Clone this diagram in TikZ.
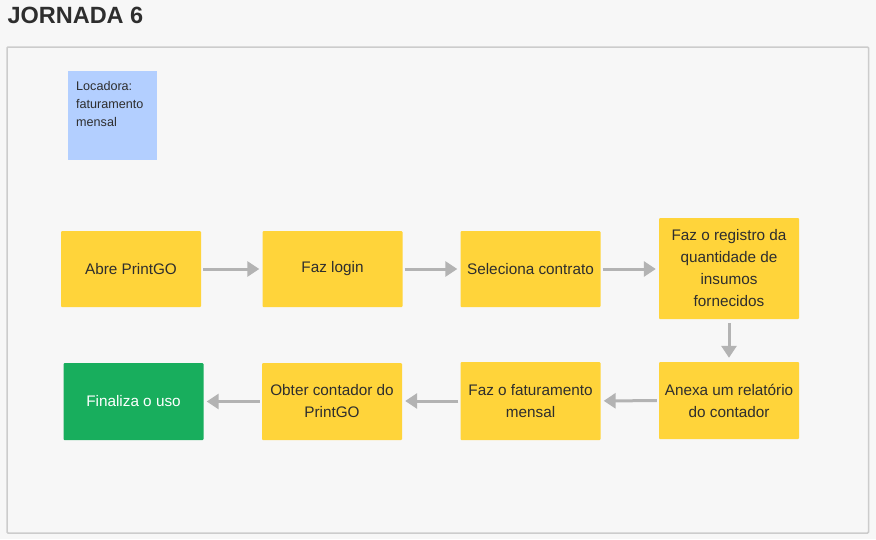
\documentclass[tikz,border=0pt]{standalone}
\usepackage{fontspec}
\setmainfont{Liberation Sans}
\usetikzlibrary{arrows.meta}
\definecolor{pagebg}{HTML}{F7F7F7}
\definecolor{framebd}{HTML}{CCCCCC}
\definecolor{stickyY}{HTML}{FFD43A}
\definecolor{stickyB}{HTML}{B3CFFF}
\definecolor{stickyG}{HTML}{18AE5D}
\definecolor{txt}{HTML}{2E2E2E}
\definecolor{arrowc}{HTML}{B3B3B3}
\tikzset{
  box/.style={rectangle, rounded corners=1pt, inner sep=2pt, align=center,
    text=txt, font=\fontsize{15.3}{22}\selectfont},
  ybox/.style={box, fill=stickyY},
  gbox/.style={box, fill=stickyG, text=white},
  arr/.style={draw=arrowc, line width=3pt,
    -{Triangle[length=12pt,width=15pt]}, shorten >=3pt, shorten <=2pt},
}
\begin{document}
\begin{tikzpicture}[x=1pt,y=-1pt]
\useasboundingbox[fill=pagebg] (0,0) rectangle (876,539);
\node[anchor=west, text=txt, font=\fontsize{23.5}{26}\selectfont\bfseries] (title) at (4,15) {JORNADA 6};
\draw[framebd, line width=1.5pt, fill=pagebg, rounded corners=1pt] (7,47) rectangle (868.5,533);
% sticky note
\node[rectangle, fill=stickyB, minimum width=89pt, minimum height=89pt, inner sep=0pt] (loc) at (112.5,115.5) {};
\node[anchor=north west, align=left, text=txt, font=\fontsize{12.6}{18}\selectfont, inner sep=0pt] (loctxt) at (76,81) {Locadora:\\faturamento\\mensal};
% row 1
\node[ybox, minimum width=140pt, minimum height=76pt] (abre) at (131,269) {Abre PrintGO};
\node[ybox, minimum width=140pt, minimum height=76pt] (login) at (332.5,269) {Faz login};
\node[ybox, minimum width=140pt, minimum height=76pt] (sel) at (530.5,269) {Seleciona contrato};
\node[ybox, minimum width=140pt, minimum height=101pt] (reg) at (729,268.5) {Faz o registro da\\quantidade de\\insumos\\fornecidos};
% row 2
\node[ybox, minimum width=140pt, minimum height=77pt] (anexa) at (729,400.5) {Anexa um relatório\\do contador};
\node[ybox, minimum width=140pt, minimum height=78pt] (fat) at (530.5,401) {Faz o faturamento\\mensal};
\node[ybox, minimum width=140pt, minimum height=77pt] (obter) at (332,401.5) {Obter contador do\\PrintGO};
\node[gbox, minimum width=140pt, minimum height=77pt] (fim) at (133.5,401.5) {Finaliza o uso};
% arrows
\draw[arr] (abre) -- (login);
\draw[arr] (login) -- (sel);
\draw[arr] (sel) -- (sel -| reg.west);
\draw[arr, shorten <=4pt, shorten >=4pt] (reg) -- (anexa);
\draw[arr] (anexa) -- (fat);
\draw[arr] (fat) -- (fat -| obter.east);
\draw[arr] (obter) -- (fim);
\end{tikzpicture}
\end{document}
